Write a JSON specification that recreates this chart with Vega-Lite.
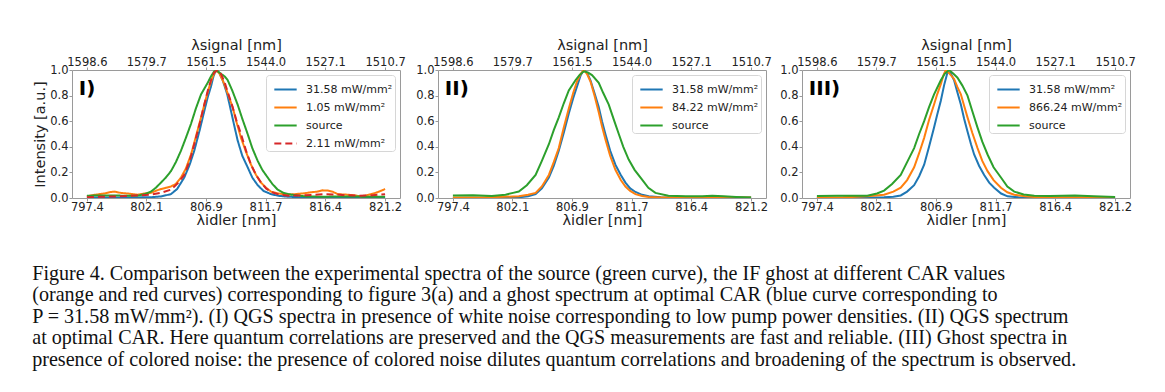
{
  "$schema": "https://vega.github.io/schema/vega-lite/v6.json",
  "padding": {"left": 32, "top": 36, "right": 5, "bottom": 5},
  "background": "white",
  "config": {
    "font": "DejaVu Sans",
    "view": {"stroke": "#9a9a9a", "strokeWidth": 1},
    "axis": {"grid": false, "domain": false, "tickColor": "#9a9a9a", "labelColor": "#222", "titleColor": "#222", "labelFontSize": 11.5, "titleFontSize": 14.5, "titleFontWeight": "normal", "labelFlush": false, "labelOverlap": false},
    "axisY": {"values": [0, 0.2, 0.4, 0.6, 0.8, 1.0], "format": ".1f", "tickSize": 3, "labelPadding": 1, "titlePadding": 2},
    "legend": {"labelFont": "DejaVu Sans", "title": null, "orient": "top-right", "offset": 5, "padding": 2, "symbolOffset": 5, "strokeColor": "#d6d6d6", "cornerRadius": 3, "fillColor": "white", "symbolType": "stroke", "symbolStrokeWidth": 2, "symbolSize": 500, "labelFontSize": 11, "labelOffset": 8, "rowPadding": -5.4, "labelColor": "#222"}
  },
  "datasets": {
    "curves": [
      {"p":"I","s":"31.58 mW/mm²","x":797.4,"y":0.003},{"p":"I","s":"31.58 mW/mm²","x":799.0,"y":0.003},{"p":"I","s":"31.58 mW/mm²","x":801.0,"y":0.004},{"p":"I","s":"31.58 mW/mm²","x":802.5,"y":0.006},{"p":"I","s":"31.58 mW/mm²","x":803.3,"y":0.012},{"p":"I","s":"31.58 mW/mm²","x":804.1,"y":0.03},{"p":"I","s":"31.58 mW/mm²","x":804.6,"y":0.07},{"p":"I","s":"31.58 mW/mm²","x":805.17,"y":0.16},{"p":"I","s":"31.58 mW/mm²","x":805.6,"y":0.26},{"p":"I","s":"31.58 mW/mm²","x":805.97,"y":0.37},{"p":"I","s":"31.58 mW/mm²","x":806.4,"y":0.53},{"p":"I","s":"31.58 mW/mm²","x":806.77,"y":0.68},{"p":"I","s":"31.58 mW/mm²","x":807.05,"y":0.79},{"p":"I","s":"31.58 mW/mm²","x":807.3,"y":0.87},{"p":"I","s":"31.58 mW/mm²","x":807.5,"y":0.95},{"p":"I","s":"31.58 mW/mm²","x":807.7,"y":1.0},{"p":"I","s":"31.58 mW/mm²","x":807.95,"y":0.98},{"p":"I","s":"31.58 mW/mm²","x":808.24,"y":0.92},{"p":"I","s":"31.58 mW/mm²","x":808.6,"y":0.81},{"p":"I","s":"31.58 mW/mm²","x":808.9,"y":0.68},{"p":"I","s":"31.58 mW/mm²","x":809.15,"y":0.57},{"p":"I","s":"31.58 mW/mm²","x":809.43,"y":0.45},{"p":"I","s":"31.58 mW/mm²","x":809.8,"y":0.33},{"p":"I","s":"31.58 mW/mm²","x":810.23,"y":0.24},{"p":"I","s":"31.58 mW/mm²","x":810.6,"y":0.16},{"p":"I","s":"31.58 mW/mm²","x":811.03,"y":0.10},{"p":"I","s":"31.58 mW/mm²","x":811.5,"y":0.055},{"p":"I","s":"31.58 mW/mm²","x":812.1,"y":0.03},{"p":"I","s":"31.58 mW/mm²","x":812.7,"y":0.017},{"p":"I","s":"31.58 mW/mm²","x":813.43,"y":0.01},{"p":"I","s":"31.58 mW/mm²","x":814.5,"y":0.006},{"p":"I","s":"31.58 mW/mm²","x":816.0,"y":0.004},{"p":"I","s":"31.58 mW/mm²","x":818.0,"y":0.004},{"p":"I","s":"31.58 mW/mm²","x":820.0,"y":0.004},{"p":"I","s":"31.58 mW/mm²","x":821.2,"y":0.005},

      {"p":"I","s":"1.05 mW/mm²","x":797.4,"y":0.013},{"p":"I","s":"1.05 mW/mm²","x":798.0,"y":0.025},{"p":"I","s":"1.05 mW/mm²","x":798.78,"y":0.035},{"p":"I","s":"1.05 mW/mm²","x":799.2,"y":0.045},{"p":"I","s":"1.05 mW/mm²","x":799.58,"y":0.05},{"p":"I","s":"1.05 mW/mm²","x":800.1,"y":0.04},{"p":"I","s":"1.05 mW/mm²","x":800.65,"y":0.035},{"p":"I","s":"1.05 mW/mm²","x":801.45,"y":0.026},{"p":"I","s":"1.05 mW/mm²","x":802.0,"y":0.035},{"p":"I","s":"1.05 mW/mm²","x":802.51,"y":0.04},{"p":"I","s":"1.05 mW/mm²","x":803.0,"y":0.06},{"p":"I","s":"1.05 mW/mm²","x":803.31,"y":0.07},{"p":"I","s":"1.05 mW/mm²","x":803.7,"y":0.08},{"p":"I","s":"1.05 mW/mm²","x":804.11,"y":0.09},{"p":"I","s":"1.05 mW/mm²","x":804.5,"y":0.11},{"p":"I","s":"1.05 mW/mm²","x":804.91,"y":0.16},{"p":"I","s":"1.05 mW/mm²","x":805.3,"y":0.23},{"p":"I","s":"1.05 mW/mm²","x":805.71,"y":0.34},{"p":"I","s":"1.05 mW/mm²","x":806.1,"y":0.48},{"p":"I","s":"1.05 mW/mm²","x":806.51,"y":0.63},{"p":"I","s":"1.05 mW/mm²","x":806.85,"y":0.76},{"p":"I","s":"1.05 mW/mm²","x":807.17,"y":0.87},{"p":"I","s":"1.05 mW/mm²","x":807.45,"y":0.95},{"p":"I","s":"1.05 mW/mm²","x":807.7,"y":1.0},{"p":"I","s":"1.05 mW/mm²","x":808.0,"y":0.97},{"p":"I","s":"1.05 mW/mm²","x":808.37,"y":0.89},{"p":"I","s":"1.05 mW/mm²","x":808.7,"y":0.8},{"p":"I","s":"1.05 mW/mm²","x":809.03,"y":0.71},{"p":"I","s":"1.05 mW/mm²","x":809.35,"y":0.59},{"p":"I","s":"1.05 mW/mm²","x":809.7,"y":0.47},{"p":"I","s":"1.05 mW/mm²","x":810.1,"y":0.36},{"p":"I","s":"1.05 mW/mm²","x":810.5,"y":0.26},{"p":"I","s":"1.05 mW/mm²","x":810.9,"y":0.18},{"p":"I","s":"1.05 mW/mm²","x":811.3,"y":0.12},{"p":"I","s":"1.05 mW/mm²","x":811.7,"y":0.08},{"p":"I","s":"1.05 mW/mm²","x":812.1,"y":0.05},{"p":"I","s":"1.05 mW/mm²","x":812.7,"y":0.035},{"p":"I","s":"1.05 mW/mm²","x":813.43,"y":0.026},{"p":"I","s":"1.05 mW/mm²","x":814.0,"y":0.03},{"p":"I","s":"1.05 mW/mm²","x":814.76,"y":0.037},{"p":"I","s":"1.05 mW/mm²","x":815.3,"y":0.045},{"p":"I","s":"1.05 mW/mm²","x":815.82,"y":0.05},{"p":"I","s":"1.05 mW/mm²","x":816.2,"y":0.06},{"p":"I","s":"1.05 mW/mm²","x":816.62,"y":0.058},{"p":"I","s":"1.05 mW/mm²","x":817.0,"y":0.05},{"p":"I","s":"1.05 mW/mm²","x":817.42,"y":0.03},{"p":"I","s":"1.05 mW/mm²","x":818.22,"y":0.026},{"p":"I","s":"1.05 mW/mm²","x":818.8,"y":0.02},{"p":"I","s":"1.05 mW/mm²","x":819.28,"y":0.013},{"p":"I","s":"1.05 mW/mm²","x":819.7,"y":0.02},{"p":"I","s":"1.05 mW/mm²","x":820.08,"y":0.03},{"p":"I","s":"1.05 mW/mm²","x":820.6,"y":0.045},{"p":"I","s":"1.05 mW/mm²","x":821.2,"y":0.07},

      {"p":"I","s":"source","x":797.4,"y":0.018},{"p":"I","s":"source","x":799.0,"y":0.02},{"p":"I","s":"source","x":800.5,"y":0.018},{"p":"I","s":"source","x":801.45,"y":0.018},{"p":"I","s":"source","x":802.0,"y":0.03},{"p":"I","s":"source","x":802.51,"y":0.05},{"p":"I","s":"source","x":802.9,"y":0.08},{"p":"I","s":"source","x":803.31,"y":0.12},{"p":"I","s":"source","x":803.7,"y":0.16},{"p":"I","s":"source","x":804.11,"y":0.21},{"p":"I","s":"source","x":804.5,"y":0.28},{"p":"I","s":"source","x":804.91,"y":0.37},{"p":"I","s":"source","x":805.3,"y":0.47},{"p":"I","s":"source","x":805.71,"y":0.58},{"p":"I","s":"source","x":806.1,"y":0.7},{"p":"I","s":"source","x":806.51,"y":0.81},{"p":"I","s":"source","x":807.04,"y":0.9},{"p":"I","s":"source","x":807.3,"y":0.95},{"p":"I","s":"source","x":807.57,"y":0.99},{"p":"I","s":"source","x":807.85,"y":0.99},{"p":"I","s":"source","x":808.1,"y":0.97},{"p":"I","s":"source","x":808.4,"y":0.95},{"p":"I","s":"source","x":808.64,"y":0.92},{"p":"I","s":"source","x":809.0,"y":0.84},{"p":"I","s":"source","x":809.43,"y":0.73},{"p":"I","s":"source","x":809.8,"y":0.62},{"p":"I","s":"source","x":810.23,"y":0.5},{"p":"I","s":"source","x":810.6,"y":0.39},{"p":"I","s":"source","x":811.03,"y":0.29},{"p":"I","s":"source","x":811.4,"y":0.22},{"p":"I","s":"source","x":811.83,"y":0.16},{"p":"I","s":"source","x":812.2,"y":0.11},{"p":"I","s":"source","x":812.63,"y":0.065},{"p":"I","s":"source","x":813.1,"y":0.04},{"p":"I","s":"source","x":813.7,"y":0.026},{"p":"I","s":"source","x":814.8,"y":0.013},{"p":"I","s":"source","x":816.0,"y":0.01},{"p":"I","s":"source","x":818.0,"y":0.012},{"p":"I","s":"source","x":820.0,"y":0.01},{"p":"I","s":"source","x":821.2,"y":0.01},

      {"p":"I","s":"2.11 mW/mm²","x":797.4,"y":0.005},{"p":"I","s":"2.11 mW/mm²","x":798.5,"y":0.01},{"p":"I","s":"2.11 mW/mm²","x":800.1,"y":0.013},{"p":"I","s":"2.11 mW/mm²","x":801.3,"y":0.02},{"p":"I","s":"2.11 mW/mm²","x":802.51,"y":0.026},{"p":"I","s":"2.11 mW/mm²","x":803.3,"y":0.04},{"p":"I","s":"2.11 mW/mm²","x":804.11,"y":0.065},{"p":"I","s":"2.11 mW/mm²","x":804.6,"y":0.11},{"p":"I","s":"2.11 mW/mm²","x":805.17,"y":0.18},{"p":"I","s":"2.11 mW/mm²","x":805.6,"y":0.29},{"p":"I","s":"2.11 mW/mm²","x":805.97,"y":0.42},{"p":"I","s":"2.11 mW/mm²","x":806.4,"y":0.58},{"p":"I","s":"2.11 mW/mm²","x":806.77,"y":0.73},{"p":"I","s":"2.11 mW/mm²","x":807.05,"y":0.84},{"p":"I","s":"2.11 mW/mm²","x":807.3,"y":0.92},{"p":"I","s":"2.11 mW/mm²","x":807.55,"y":0.98},{"p":"I","s":"2.11 mW/mm²","x":807.84,"y":1.0},{"p":"I","s":"2.11 mW/mm²","x":808.1,"y":0.97},{"p":"I","s":"2.11 mW/mm²","x":808.37,"y":0.91},{"p":"I","s":"2.11 mW/mm²","x":808.7,"y":0.81},{"p":"I","s":"2.11 mW/mm²","x":809.03,"y":0.71},{"p":"I","s":"2.11 mW/mm²","x":809.35,"y":0.6},{"p":"I","s":"2.11 mW/mm²","x":809.7,"y":0.5},{"p":"I","s":"2.11 mW/mm²","x":810.1,"y":0.37},{"p":"I","s":"2.11 mW/mm²","x":810.5,"y":0.26},{"p":"I","s":"2.11 mW/mm²","x":810.9,"y":0.18},{"p":"I","s":"2.11 mW/mm²","x":811.3,"y":0.12},{"p":"I","s":"2.11 mW/mm²","x":811.7,"y":0.075},{"p":"I","s":"2.11 mW/mm²","x":812.1,"y":0.047},{"p":"I","s":"2.11 mW/mm²","x":812.8,"y":0.025},{"p":"I","s":"2.11 mW/mm²","x":813.5,"y":0.018},{"p":"I","s":"2.11 mW/mm²","x":814.5,"y":0.02},{"p":"I","s":"2.11 mW/mm²","x":815.5,"y":0.025},{"p":"I","s":"2.11 mW/mm²","x":816.4,"y":0.03},{"p":"I","s":"2.11 mW/mm²","x":817.2,"y":0.028},{"p":"I","s":"2.11 mW/mm²","x":818.0,"y":0.022},{"p":"I","s":"2.11 mW/mm²","x":819.0,"y":0.018},{"p":"I","s":"2.11 mW/mm²","x":820.0,"y":0.02},{"p":"I","s":"2.11 mW/mm²","x":820.6,"y":0.025},{"p":"I","s":"2.11 mW/mm²","x":821.2,"y":0.03},

      {"p":"II","s":"31.58 mW/mm²","x":797.4,"y":0.0},{"p":"II","s":"31.58 mW/mm²","x":800.0,"y":0.002},{"p":"II","s":"31.58 mW/mm²","x":802.66,"y":0.005},{"p":"II","s":"31.58 mW/mm²","x":803.4,"y":0.014},{"p":"II","s":"31.58 mW/mm²","x":804.0,"y":0.03},{"p":"II","s":"31.58 mW/mm²","x":804.5,"y":0.075},{"p":"II","s":"31.58 mW/mm²","x":805.06,"y":0.16},{"p":"II","s":"31.58 mW/mm²","x":805.45,"y":0.25},{"p":"II","s":"31.58 mW/mm²","x":805.85,"y":0.37},{"p":"II","s":"31.58 mW/mm²","x":806.25,"y":0.51},{"p":"II","s":"31.58 mW/mm²","x":806.65,"y":0.66},{"p":"II","s":"31.58 mW/mm²","x":807.0,"y":0.78},{"p":"II","s":"31.58 mW/mm²","x":807.3,"y":0.87},{"p":"II","s":"31.58 mW/mm²","x":807.6,"y":0.96},{"p":"II","s":"31.58 mW/mm²","x":807.85,"y":1.0},{"p":"II","s":"31.58 mW/mm²","x":808.1,"y":0.98},{"p":"II","s":"31.58 mW/mm²","x":808.38,"y":0.92},{"p":"II","s":"31.58 mW/mm²","x":808.7,"y":0.82},{"p":"II","s":"31.58 mW/mm²","x":809.04,"y":0.71},{"p":"II","s":"31.58 mW/mm²","x":809.3,"y":0.6},{"p":"II","s":"31.58 mW/mm²","x":809.57,"y":0.5},{"p":"II","s":"31.58 mW/mm²","x":809.95,"y":0.37},{"p":"II","s":"31.58 mW/mm²","x":810.37,"y":0.26},{"p":"II","s":"31.58 mW/mm²","x":810.8,"y":0.18},{"p":"II","s":"31.58 mW/mm²","x":811.17,"y":0.12},{"p":"II","s":"31.58 mW/mm²","x":811.55,"y":0.075},{"p":"II","s":"31.58 mW/mm²","x":811.97,"y":0.047},{"p":"II","s":"31.58 mW/mm²","x":812.5,"y":0.025},{"p":"II","s":"31.58 mW/mm²","x":813.03,"y":0.013},{"p":"II","s":"31.58 mW/mm²","x":814.0,"y":0.006},{"p":"II","s":"31.58 mW/mm²","x":816.0,"y":0.003},{"p":"II","s":"31.58 mW/mm²","x":818.0,"y":0.003},{"p":"II","s":"31.58 mW/mm²","x":821.2,"y":0.003},

      {"p":"II","s":"84.22 mW/mm²","x":797.4,"y":0.003},{"p":"II","s":"84.22 mW/mm²","x":800.0,"y":0.005},{"p":"II","s":"84.22 mW/mm²","x":802.66,"y":0.013},{"p":"II","s":"84.22 mW/mm²","x":803.4,"y":0.025},{"p":"II","s":"84.22 mW/mm²","x":804.0,"y":0.04},{"p":"II","s":"84.22 mW/mm²","x":804.5,"y":0.09},{"p":"II","s":"84.22 mW/mm²","x":805.06,"y":0.18},{"p":"II","s":"84.22 mW/mm²","x":805.45,"y":0.28},{"p":"II","s":"84.22 mW/mm²","x":805.85,"y":0.39},{"p":"II","s":"84.22 mW/mm²","x":806.25,"y":0.55},{"p":"II","s":"84.22 mW/mm²","x":806.65,"y":0.70},{"p":"II","s":"84.22 mW/mm²","x":807.0,"y":0.82},{"p":"II","s":"84.22 mW/mm²","x":807.3,"y":0.91},{"p":"II","s":"84.22 mW/mm²","x":807.6,"y":0.97},{"p":"II","s":"84.22 mW/mm²","x":807.85,"y":1.0},{"p":"II","s":"84.22 mW/mm²","x":808.1,"y":0.97},{"p":"II","s":"84.22 mW/mm²","x":808.38,"y":0.91},{"p":"II","s":"84.22 mW/mm²","x":808.7,"y":0.8},{"p":"II","s":"84.22 mW/mm²","x":809.04,"y":0.67},{"p":"II","s":"84.22 mW/mm²","x":809.3,"y":0.56},{"p":"II","s":"84.22 mW/mm²","x":809.57,"y":0.46},{"p":"II","s":"84.22 mW/mm²","x":809.95,"y":0.33},{"p":"II","s":"84.22 mW/mm²","x":810.37,"y":0.22},{"p":"II","s":"84.22 mW/mm²","x":810.8,"y":0.14},{"p":"II","s":"84.22 mW/mm²","x":811.17,"y":0.09},{"p":"II","s":"84.22 mW/mm²","x":811.55,"y":0.055},{"p":"II","s":"84.22 mW/mm²","x":811.97,"y":0.03},{"p":"II","s":"84.22 mW/mm²","x":812.5,"y":0.016},{"p":"II","s":"84.22 mW/mm²","x":813.03,"y":0.008},{"p":"II","s":"84.22 mW/mm²","x":814.0,"y":0.004},{"p":"II","s":"84.22 mW/mm²","x":816.0,"y":0.003},{"p":"II","s":"84.22 mW/mm²","x":821.2,"y":0.003},

      {"p":"II","s":"source","x":797.4,"y":0.02},{"p":"II","s":"source","x":799.0,"y":0.022},{"p":"II","s":"source","x":800.5,"y":0.015},{"p":"II","s":"source","x":801.6,"y":0.026},{"p":"II","s":"source","x":802.2,"y":0.04},{"p":"II","s":"source","x":802.66,"y":0.05},{"p":"II","s":"source","x":803.3,"y":0.1},{"p":"II","s":"source","x":804.0,"y":0.18},{"p":"II","s":"source","x":804.5,"y":0.29},{"p":"II","s":"source","x":805.06,"y":0.42},{"p":"II","s":"source","x":805.45,"y":0.53},{"p":"II","s":"source","x":805.85,"y":0.63},{"p":"II","s":"source","x":806.25,"y":0.74},{"p":"II","s":"source","x":806.65,"y":0.84},{"p":"II","s":"source","x":807.18,"y":0.92},{"p":"II","s":"source","x":807.5,"y":0.96},{"p":"II","s":"source","x":807.85,"y":0.99},{"p":"II","s":"source","x":808.2,"y":0.98},{"p":"II","s":"source","x":808.5,"y":0.96},{"p":"II","s":"source","x":809.04,"y":0.9},{"p":"II","s":"source","x":809.4,"y":0.82},{"p":"II","s":"source","x":809.84,"y":0.73},{"p":"II","s":"source","x":810.25,"y":0.61},{"p":"II","s":"source","x":810.64,"y":0.5},{"p":"II","s":"source","x":811.0,"y":0.4},{"p":"II","s":"source","x":811.43,"y":0.3},{"p":"II","s":"source","x":811.9,"y":0.22},{"p":"II","s":"source","x":812.5,"y":0.144},{"p":"II","s":"source","x":813.0,"y":0.08},{"p":"II","s":"source","x":813.56,"y":0.04},{"p":"II","s":"source","x":814.6,"y":0.018},{"p":"II","s":"source","x":816.0,"y":0.013},{"p":"II","s":"source","x":817.3,"y":0.013},{"p":"II","s":"source","x":818.1,"y":0.018},{"p":"II","s":"source","x":819.0,"y":0.013},{"p":"II","s":"source","x":820.0,"y":0.008},{"p":"II","s":"source","x":821.2,"y":0.003},

      {"p":"III","s":"31.58 mW/mm²","x":797.4,"y":0.0},{"p":"III","s":"31.58 mW/mm²","x":800.0,"y":0.002},{"p":"III","s":"31.58 mW/mm²","x":802.76,"y":0.005},{"p":"III","s":"31.58 mW/mm²","x":803.5,"y":0.01},{"p":"III","s":"31.58 mW/mm²","x":804.09,"y":0.02},{"p":"III","s":"31.58 mW/mm²","x":804.6,"y":0.05},{"p":"III","s":"31.58 mW/mm²","x":805.16,"y":0.10},{"p":"III","s":"31.58 mW/mm²","x":805.56,"y":0.17},{"p":"III","s":"31.58 mW/mm²","x":805.96,"y":0.26},{"p":"III","s":"31.58 mW/mm²","x":806.35,"y":0.40},{"p":"III","s":"31.58 mW/mm²","x":806.75,"y":0.55},{"p":"III","s":"31.58 mW/mm²","x":807.0,"y":0.65},{"p":"III","s":"31.58 mW/mm²","x":807.29,"y":0.76},{"p":"III","s":"31.58 mW/mm²","x":807.55,"y":0.88},{"p":"III","s":"31.58 mW/mm²","x":807.82,"y":0.98},{"p":"III","s":"31.58 mW/mm²","x":808.05,"y":0.98},{"p":"III","s":"31.58 mW/mm²","x":808.35,"y":0.92},{"p":"III","s":"31.58 mW/mm²","x":808.6,"y":0.83},{"p":"III","s":"31.58 mW/mm²","x":808.89,"y":0.73},{"p":"III","s":"31.58 mW/mm²","x":809.15,"y":0.62},{"p":"III","s":"31.58 mW/mm²","x":809.42,"y":0.52},{"p":"III","s":"31.58 mW/mm²","x":809.7,"y":0.42},{"p":"III","s":"31.58 mW/mm²","x":809.95,"y":0.34},{"p":"III","s":"31.58 mW/mm²","x":810.35,"y":0.25},{"p":"III","s":"31.58 mW/mm²","x":810.75,"y":0.18},{"p":"III","s":"31.58 mW/mm²","x":811.15,"y":0.12},{"p":"III","s":"31.58 mW/mm²","x":811.55,"y":0.08},{"p":"III","s":"31.58 mW/mm²","x":812.1,"y":0.035},{"p":"III","s":"31.58 mW/mm²","x":812.62,"y":0.013},{"p":"III","s":"31.58 mW/mm²","x":813.5,"y":0.005},{"p":"III","s":"31.58 mW/mm²","x":815.0,"y":0.003},{"p":"III","s":"31.58 mW/mm²","x":821.2,"y":0.003},

      {"p":"III","s":"866.24 mW/mm²","x":797.4,"y":0.003},{"p":"III","s":"866.24 mW/mm²","x":799.5,"y":0.005},{"p":"III","s":"866.24 mW/mm²","x":801.42,"y":0.013},{"p":"III","s":"866.24 mW/mm²","x":802.76,"y":0.026},{"p":"III","s":"866.24 mW/mm²","x":803.5,"y":0.05},{"p":"III","s":"866.24 mW/mm²","x":804.09,"y":0.08},{"p":"III","s":"866.24 mW/mm²","x":804.6,"y":0.14},{"p":"III","s":"866.24 mW/mm²","x":805.16,"y":0.24},{"p":"III","s":"866.24 mW/mm²","x":805.56,"y":0.35},{"p":"III","s":"866.24 mW/mm²","x":805.96,"y":0.47},{"p":"III","s":"866.24 mW/mm²","x":806.35,"y":0.61},{"p":"III","s":"866.24 mW/mm²","x":806.75,"y":0.73},{"p":"III","s":"866.24 mW/mm²","x":807.0,"y":0.81},{"p":"III","s":"866.24 mW/mm²","x":807.29,"y":0.89},{"p":"III","s":"866.24 mW/mm²","x":807.5,"y":0.96},{"p":"III","s":"866.24 mW/mm²","x":807.69,"y":1.0},{"p":"III","s":"866.24 mW/mm²","x":808.0,"y":0.97},{"p":"III","s":"866.24 mW/mm²","x":808.35,"y":0.93},{"p":"III","s":"866.24 mW/mm²","x":808.6,"y":0.87},{"p":"III","s":"866.24 mW/mm²","x":808.89,"y":0.81},{"p":"III","s":"866.24 mW/mm²","x":809.15,"y":0.72},{"p":"III","s":"866.24 mW/mm²","x":809.42,"y":0.63},{"p":"III","s":"866.24 mW/mm²","x":809.8,"y":0.51},{"p":"III","s":"866.24 mW/mm²","x":810.22,"y":0.39},{"p":"III","s":"866.24 mW/mm²","x":810.6,"y":0.29},{"p":"III","s":"866.24 mW/mm²","x":811.02,"y":0.21},{"p":"III","s":"866.24 mW/mm²","x":811.5,"y":0.14},{"p":"III","s":"866.24 mW/mm²","x":812.09,"y":0.08},{"p":"III","s":"866.24 mW/mm²","x":812.6,"y":0.045},{"p":"III","s":"866.24 mW/mm²","x":813.15,"y":0.026},{"p":"III","s":"866.24 mW/mm²","x":814.0,"y":0.013},{"p":"III","s":"866.24 mW/mm²","x":814.75,"y":0.008},{"p":"III","s":"866.24 mW/mm²","x":816.0,"y":0.005},{"p":"III","s":"866.24 mW/mm²","x":821.2,"y":0.004},

      {"p":"III","s":"source","x":797.4,"y":0.015},{"p":"III","s":"source","x":799.0,"y":0.018},{"p":"III","s":"source","x":801.42,"y":0.018},{"p":"III","s":"source","x":802.2,"y":0.035},{"p":"III","s":"source","x":802.76,"y":0.058},{"p":"III","s":"source","x":803.4,"y":0.11},{"p":"III","s":"source","x":804.09,"y":0.18},{"p":"III","s":"source","x":804.6,"y":0.28},{"p":"III","s":"source","x":805.16,"y":0.39},{"p":"III","s":"source","x":805.56,"y":0.5},{"p":"III","s":"source","x":805.96,"y":0.6},{"p":"III","s":"source","x":806.35,"y":0.71},{"p":"III","s":"source","x":806.75,"y":0.81},{"p":"III","s":"source","x":807.29,"y":0.92},{"p":"III","s":"source","x":807.6,"y":0.97},{"p":"III","s":"source","x":807.95,"y":1.0},{"p":"III","s":"source","x":808.3,"y":0.97},{"p":"III","s":"source","x":808.62,"y":0.94},{"p":"III","s":"source","x":809.0,"y":0.88},{"p":"III","s":"source","x":809.42,"y":0.8},{"p":"III","s":"source","x":809.8,"y":0.68},{"p":"III","s":"source","x":810.22,"y":0.55},{"p":"III","s":"source","x":810.6,"y":0.44},{"p":"III","s":"source","x":811.02,"y":0.34},{"p":"III","s":"source","x":811.5,"y":0.24},{"p":"III","s":"source","x":812.09,"y":0.16},{"p":"III","s":"source","x":812.6,"y":0.09},{"p":"III","s":"source","x":813.15,"y":0.05},{"p":"III","s":"source","x":813.9,"y":0.028},{"p":"III","s":"source","x":814.75,"y":0.018},{"p":"III","s":"source","x":816.0,"y":0.015},{"p":"III","s":"source","x":818.0,"y":0.02},{"p":"III","s":"source","x":819.5,"y":0.013},{"p":"III","s":"source","x":821.2,"y":0.008}
    ],
    "labels": [
      {"p":"I","t":"I)","x":796.75,"y":0.85},
      {"p":"II","t":"II)","x":796.75,"y":0.85},
      {"p":"III","t":"III)","x":796.75,"y":0.85}
    ]
  },
  "title": {
    "text": [
      "Figure 4. Comparison between the experimental spectra of the source (green curve), the IF ghost at different CAR values",
      "(orange and red curves) corresponding to figure 3(a) and a ghost spectrum at optimal CAR (blue curve corresponding to",
      "P = 31.58 mW/mm²). (I) QGS spectra in presence of white noise corresponding to low pump power densities. (II) QGS spectrum",
      "at optimal CAR. Here quantum correlations are preserved and the QGS measurements are fast and reliable. (III) Ghost spectra in",
      "presence of colored noise: the presence of colored noise dilutes quantum correlations and broadening of the spectrum is observed."
    ],
    "orient": "bottom",
    "anchor": "start",
    "font": "Liberation Serif",
    "fontSize": 20.1,
    "fontWeight": "normal",
    "lineHeight": 21.6,
    "offset": 36,
    "color": "#111"
  },
  "spacing": 9,
  "resolve": {"scale": {"color": "independent", "strokeDash": "independent", "x": "independent", "y": "independent"}, "legend": {"color": "independent", "strokeDash": "independent"}},
  "hconcat": [
    {
      "width": 328, "height": 128,
      "resolve": {"scale": {"x": "independent"}},
      "layer": [
        {
          "data": {"name": "curves"},
          "transform": [{"filter": "datum.p == 'I'"}],
          "mark": {"type": "line", "strokeWidth": 2, "clip": true},
          "encoding": {
            "x": {"field": "x", "type": "quantitative", "scale": {"domain": [796.21, 822.39], "nice": false, "zero": false},
                  "axis": {"orient": "bottom", "title": "λidler [nm]", "values": [797.4, 802.14, 806.9, 811.66, 816.42, 821.2], "format": ".1f", "tickSize": 3, "labelPadding": 0, "titlePadding": 1}},
            "y": {"field": "y", "type": "quantitative", "scale": {"domain": [0, 1], "nice": false},
                  "axis": {"title": "Intensity [a.u.]"}},
            "color": {"field": "s", "type": "nominal",
                      "scale": {"domain": ["31.58 mW/mm²", "1.05 mW/mm²", "source", "2.11 mW/mm²"], "range": ["#1f77b4", "#ff7f0e", "#2ca02c", "#d62728"]}},
            "strokeDash": {"field": "s", "type": "nominal",
                      "scale": {"domain": ["31.58 mW/mm²", "1.05 mW/mm²", "source", "2.11 mW/mm²"], "range": [[1, 0], [1, 0], [1, 0], [7, 4]]}}
          }
        },
        {
          "data": {"name": "labels"},
          "transform": [{"filter": "datum.p == 'I'"}],
          "mark": {"type": "text", "align": "left", "baseline": "middle", "fontSize": 20, "fontWeight": 900, "font": "DejaVu Sans", "color": "#000"},
          "encoding": {
            "x": {"field": "x", "type": "quantitative", "scale": {"domain": [796.21, 822.39], "nice": false, "zero": false},
                  "axis": {"orient": "top", "title": "λsignal [nm]", "values": [797.4, 802.14, 806.9, 811.66, 816.42, 821.2], "labelExpr": "datum.value < 800 ? '1598.6' : datum.value < 804 ? '1579.7' : datum.value < 809 ? '1561.5' : datum.value < 814 ? '1544.0' : datum.value < 819 ? '1527.1' : '1510.7'", "tickSize": 3, "labelPadding": 0, "titlePadding": 4}},
            "y": {"field": "y", "type": "quantitative", "scale": {"domain": [0, 1], "nice": false}, "axis": {"title": "Intensity [a.u.]"}},
            "text": {"field": "t"}
          }
        }
      ]
    },
    {
      "spacing": 7,
      "resolve": {"scale": {"color": "independent", "x": "independent", "y": "independent"}, "legend": {"color": "independent"}},
      "hconcat": [
        {
          "width": 328, "height": 128,
          "resolve": {"scale": {"x": "independent"}},
          "layer": [
            {
              "data": {"name": "curves"},
              "transform": [{"filter": "datum.p == 'II'"}],
              "mark": {"type": "line", "strokeWidth": 2, "clip": true},
              "encoding": {
                "x": {"field": "x", "type": "quantitative", "scale": {"domain": [796.21, 822.39], "nice": false, "zero": false},
                      "axis": {"orient": "bottom", "title": "λidler [nm]", "values": [797.4, 802.14, 806.9, 811.66, 816.42, 821.2], "format": ".1f", "tickSize": 3, "labelPadding": 0, "titlePadding": 1}},
                "y": {"field": "y", "type": "quantitative", "scale": {"domain": [0, 1], "nice": false}, "axis": {"title": null}},
                "color": {"field": "s", "type": "nominal",
                          "scale": {"domain": ["31.58 mW/mm²", "84.22 mW/mm²", "source"], "range": ["#1f77b4", "#ff7f0e", "#2ca02c"]}}
              }
            },
            {
              "data": {"name": "labels"},
              "transform": [{"filter": "datum.p == 'II'"}],
              "mark": {"type": "text", "align": "left", "baseline": "middle", "fontSize": 20, "fontWeight": 900, "font": "DejaVu Sans", "color": "#000"},
              "encoding": {
                "x": {"field": "x", "type": "quantitative", "scale": {"domain": [796.21, 822.39], "nice": false, "zero": false},
                      "axis": {"orient": "top", "title": "λsignal [nm]", "values": [797.4, 802.14, 806.9, 811.66, 816.42, 821.2], "labelExpr": "datum.value < 800 ? '1598.6' : datum.value < 804 ? '1579.7' : datum.value < 809 ? '1561.5' : datum.value < 814 ? '1544.0' : datum.value < 819 ? '1527.1' : '1510.7'", "tickSize": 3, "labelPadding": 0, "titlePadding": 4}},
                "y": {"field": "y", "type": "quantitative", "scale": {"domain": [0, 1], "nice": false}, "axis": {"title": null}},
                "text": {"field": "t"}
              }
            }
          ]
        },
        {
          "width": 328, "height": 128,
          "resolve": {"scale": {"x": "independent"}},
          "layer": [
            {
              "data": {"name": "curves"},
              "transform": [{"filter": "datum.p == 'III'"}],
              "mark": {"type": "line", "strokeWidth": 2, "clip": true},
              "encoding": {
                "x": {"field": "x", "type": "quantitative", "scale": {"domain": [796.21, 822.39], "nice": false, "zero": false},
                      "axis": {"orient": "bottom", "title": "λidler [nm]", "values": [797.4, 802.14, 806.9, 811.66, 816.42, 821.2], "format": ".1f", "tickSize": 3, "labelPadding": 0, "titlePadding": 1}},
                "y": {"field": "y", "type": "quantitative", "scale": {"domain": [0, 1], "nice": false}, "axis": {"title": null}},
                "color": {"field": "s", "type": "nominal",
                          "scale": {"domain": ["31.58 mW/mm²", "866.24 mW/mm²", "source"], "range": ["#1f77b4", "#ff7f0e", "#2ca02c"]}}
              }
            },
            {
              "data": {"name": "labels"},
              "transform": [{"filter": "datum.p == 'III'"}],
              "mark": {"type": "text", "align": "left", "baseline": "middle", "fontSize": 20, "fontWeight": 900, "font": "DejaVu Sans", "color": "#000"},
              "encoding": {
                "x": {"field": "x", "type": "quantitative", "scale": {"domain": [796.21, 822.39], "nice": false, "zero": false},
                      "axis": {"orient": "top", "title": "λsignal [nm]", "values": [797.4, 802.14, 806.9, 811.66, 816.42, 821.2], "labelExpr": "datum.value < 800 ? '1598.6' : datum.value < 804 ? '1579.7' : datum.value < 809 ? '1561.5' : datum.value < 814 ? '1544.0' : datum.value < 819 ? '1527.1' : '1510.7'", "tickSize": 3, "labelPadding": 0, "titlePadding": 4}},
                "y": {"field": "y", "type": "quantitative", "scale": {"domain": [0, 1], "nice": false}, "axis": {"title": null}},
                "text": {"field": "t"}
              }
            }
          ]
        }
      ]
    }
  ]
}
